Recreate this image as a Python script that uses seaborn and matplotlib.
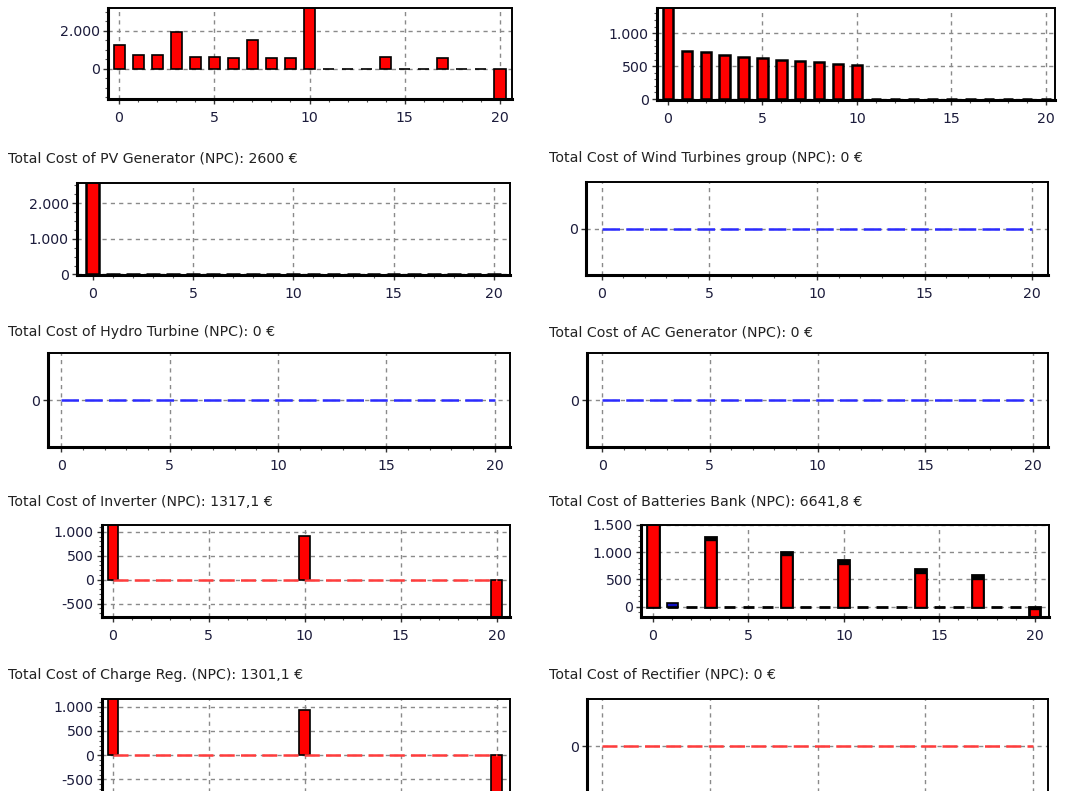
import numpy as np
import pandas as pd
import matplotlib
matplotlib.use("Agg")
import matplotlib.pyplot as plt
from matplotlib.ticker import MultipleLocator, FuncFormatter, FixedLocator, NullLocator
import seaborn as sns

# ---- yearly values (€) over the 20-year project life ----
years = list(range(21))

total_cash_flow = [1270, 720, 720, 1930, 630, 630, 560, 1510, 560, 560, 3400,
                   0, 0, 0, 630, 0, 0, 560, 0, 0, -1900]
om_cost = [1450, 730, 710, 670, 645, 625, 600, 580, 555, 535, 510,
           0, 0, 0, 0, 0, 0, 0, 0, 0, 0]
pv_cost = [2600, 0, 0, 0, 0, 0, 0, 0, 0, 0, 0,
           0, 0, 0, 0, 0, 0, 0, 0, 0, 0]
wind_cost = [0, 0, 0, 0, 0, 0, 0, 0, 0, 0, 0,
             0, 0, 0, 0, 0, 0, 0, 0, 0, 0]
hydro_cost = [0, 0, 0, 0, 0, 0, 0, 0, 0, 0, 0,
              0, 0, 0, 0, 0, 0, 0, 0, 0, 0]
ac_gen_cost = [0, 0, 0, 0, 0, 0, 0, 0, 0, 0, 0,
               0, 0, 0, 0, 0, 0, 0, 0, 0, 0]
inverter_cost = [1250, 0, 0, 0, 0, 0, 0, 0, 0, 0, 905,
                 0, 0, 0, 0, 0, 0, 0, 0, 0, -830]
inverter_om = [0, 0, 0, 0, 0, 0, 0, 0, 0, 0, 0,
               0, 0, 0, 0, 0, 0, 0, 0, 0, 0]
batt_replacement = [1550, 0, 0, 1220, 0, 0, 0, 950, 0, 0, 790,
                    0, 0, 0, 625, 0, 0, 515, 0, 0, -160]
batt_extra = [0, 0, 0, 60, 0, 0, 0, 60, 0, 0, 60,
              0, 0, 0, 65, 0, 0, 65, 0, 0, -45]
batt_first_year = [0, 60, 0, 0, 0, 0, 0, 0, 0, 0, 0,
                   0, 0, 0, 0, 0, 0, 0, 0, 0, 0]
charge_reg_cost = [1250, 0, 0, 0, 0, 0, 0, 0, 0, 0, 930,
                   0, 0, 0, 0, 0, 0, 0, 0, 0, -800]
charge_reg_om = [0, 0, 0, 0, 0, 0, 0, 0, 0, 0, 0,
                 0, 0, 0, 0, 0, 0, 0, 0, 0, 0]
rectifier_cost = [0, 0, 0, 0, 0, 0, 0, 0, 0, 0, 0,
                  0, 0, 0, 0, 0, 0, 0, 0, 0, 0]

title_pv = "Total Cost of PV Generator (NPC): 2600 €"
title_wind = "Total Cost of Wind Turbines group (NPC): 0 €"
title_hydro = "Total Cost of Hydro Turbine (NPC): 0 €"
title_acgen = "Total Cost of AC Generator (NPC): 0 €"
title_inverter = "Total Cost of Inverter (NPC): 1317,1 €"
title_batt = "Total Cost of Batteries Bank (NPC): 6641,8 €"
title_chreg = "Total Cost of Charge Reg. (NPC): 1301,1 €"
title_rect = "Total Cost of Rectifier (NPC): 0 €"

# ---- styling ----
sns.set_style("white")
plt.rcParams["font.family"] = ["DejaVu Sans"]
FS = 10.2
TICK_COLOR = "#1c1c3c"
TITLE_COLOR = "#222222"
GRID_COLOR = "#8a8a8a"
RED = "#ff0000"

W, H = 1072, 791
fig = plt.figure(figsize=(W / 100, H / 100), dpi=100)
fig.patch.set_facecolor("white")


def add_axes(l, t, r, b):
    return fig.add_axes([l / W, 1 - b / H, (r - l) / W, (b - t) / H])


def thousands(v, _pos):
    return f"{int(round(v)):,}".replace(",", ".")


def finish(ax, xlim, ylim, ymajor=None, yminor=None, yticks=None, xlabels=True):
    ax.set_xlim(*xlim)
    ax.set_ylim(*ylim)
    ax.xaxis.set_major_locator(FixedLocator([0, 5, 10, 15, 20]))
    ax.xaxis.set_minor_locator(MultipleLocator(1))
    if yticks is not None:
        ax.yaxis.set_major_locator(FixedLocator(yticks))
        ax.yaxis.set_minor_locator(NullLocator())
    else:
        ax.yaxis.set_major_locator(MultipleLocator(ymajor))
        ax.yaxis.set_minor_locator(MultipleLocator(yminor))
    ax.yaxis.set_major_formatter(FuncFormatter(thousands))
    ax.grid(True, which="major", color=GRID_COLOR, linestyle=(0, (3, 3)), linewidth=1.0)
    ax.grid(False, which="minor")
    ax.set_axisbelow(True)
    for side in ("left", "bottom"):
        ax.spines[side].set_linewidth(2.2)
        ax.spines[side].set_color("black")
    for side in ("top", "right"):
        ax.spines[side].set_linewidth(1.4)
        ax.spines[side].set_color("black")
    ax.tick_params(axis="both", which="major", direction="out", length=3.5, width=1,
                   color="#333333", labelsize=FS, labelcolor=TICK_COLOR, pad=2.5,
                   left=True, bottom=True)
    ax.tick_params(axis="x", which="major", pad=5, labelbottom=xlabels)
    ax.tick_params(axis="both", which="minor", direction="out", length=2, width=0.8,
                   color="#555555", left=True, bottom=True)
    ax.set_xlabel("")
    ax.set_ylabel("")


def bars(ax, values, width=0.58, edge_lw=1.2, color=RED):
    sns.barplot(x=years, y=values, ax=ax, native_scale=True, color=color,
                saturation=1, edgecolor="black", linewidth=edge_lw,
                width=width, errorbar=None)


def zero_line(ax, values, color, dashes, lw=1.8):
    sns.lineplot(x=years, y=values, ax=ax, color=color, linewidth=lw,
                 linestyle=(0, dashes))


def title(x, y, text):
    fig.text(x / W, 1 - y / H, text, fontsize=FS, color=TITLE_COLOR,
             ha="left", va="center")


def nonzero(values):
    return [v if v != 0 else np.nan for v in values]


# Row 1: total cash flow and O&M
ax = add_axes(108, 8, 512, 99)
bars(ax, total_cash_flow, width=0.58, edge_lw=1.2)
finish(ax, (-0.58, 20.63), (-1580, 3210), 2000, 500)

ax = add_axes(657, 8, 1055, 100)
bars(ax, om_cost, width=0.55, edge_lw=1.8)
finish(ax, (-0.58, 20.48), (-15, 1383), 500, 100)

# Row 2: PV generator and wind turbines
title(8, 158, title_pv)
ax = add_axes(77, 183, 510, 275)
bars(ax, pv_cost, width=0.68, edge_lw=1.8)
finish(ax, (-0.78, 20.8), (-15, 2560), 1000, 250)

title(549, 158, title_wind)
ax = add_axes(586, 182, 1048, 275)
zero_line(ax, wind_cost, "#2b2bff", (7, 2.5))
finish(ax, (-0.74, 20.74), (-1, 1), yticks=[0])

# Row 3: hydro turbine and AC generator
title(8, 332, title_hydro)
ax = add_axes(48, 353, 510, 447)
zero_line(ax, hydro_cost, "#2b2bff", (7, 2.5))
finish(ax, (-0.61, 20.7), (-1, 1), yticks=[0])

title(549, 332, title_acgen)
ax = add_axes(587, 353, 1048, 447)
zero_line(ax, ac_gen_cost, "#2b2bff", (7, 2.5))
finish(ax, (-0.7, 20.7), (-1, 1), yticks=[0])

# Row 4: inverter and battery bank
title(8, 502, title_inverter)
ax = add_axes(102, 525, 510, 617)
zero_line(ax, inverter_om, "#ff3c3c", (6, 2.5))
bars(ax, nonzero(inverter_cost), width=0.54, edge_lw=1.2)
finish(ax, (-0.56, 20.7), (-780, 1144), 500, 100)

title(549, 502, title_batt)
ax = add_axes(641, 525, 1049, 617)
batt_total = [r + e for r, e in zip(batt_replacement, batt_extra)]
batt_inner = [r if r >= 0 else e for r, e in zip(batt_replacement, batt_extra)]
batt_df = pd.DataFrame({
    "year": years,
    "total": batt_total,
    "inner": nonzero(batt_inner),
    "first": nonzero(batt_first_year),
    "positive": [t >= 0 for t in batt_total],
})
# outer segment of each stacked bar, then the inner segment on top of it
sns.barplot(data=batt_df, x="year", y="total", hue="positive",
            palette={True: "black", False: RED}, dodge=False, legend=False,
            native_scale=True, saturation=1, edgecolor="black", linewidth=2.0,
            width=0.58, errorbar=None, ax=ax)
sns.barplot(data=batt_df, x="year", y="inner", hue="positive",
            palette={True: RED, False: "black"}, dodge=False, legend=False,
            native_scale=True, saturation=1, edgecolor="black", linewidth=1.0,
            width=0.58, errorbar=None, ax=ax)
sns.barplot(data=batt_df, x="year", y="first", color="#1010c0", saturation=1,
            native_scale=True, edgecolor="black", linewidth=1.2, width=0.58,
            errorbar=None, ax=ax)
finish(ax, (-0.63, 20.75), (-190, 1500), 500, 100)

# Row 5: charge regulator and rectifier (lower edge runs off the page)
title(8, 675, title_chreg)
ax = add_axes(102, 699, 510, 793)
zero_line(ax, charge_reg_om, "#ff3c3c", (6, 2.5))
bars(ax, nonzero(charge_reg_cost), width=0.54, edge_lw=1.2)
finish(ax, (-0.56, 20.7), (-780, 1160), 500, 100, xlabels=False)

title(549, 675, title_rect)
ax = add_axes(587, 699, 1048, 793)
zero_line(ax, rectifier_cost, "#ff3c3c", (6, 2.5))
finish(ax, (-0.7, 20.7), (-1, 1), yticks=[0], xlabels=False)

fig.savefig("out.png", dpi=100, facecolor="white")
